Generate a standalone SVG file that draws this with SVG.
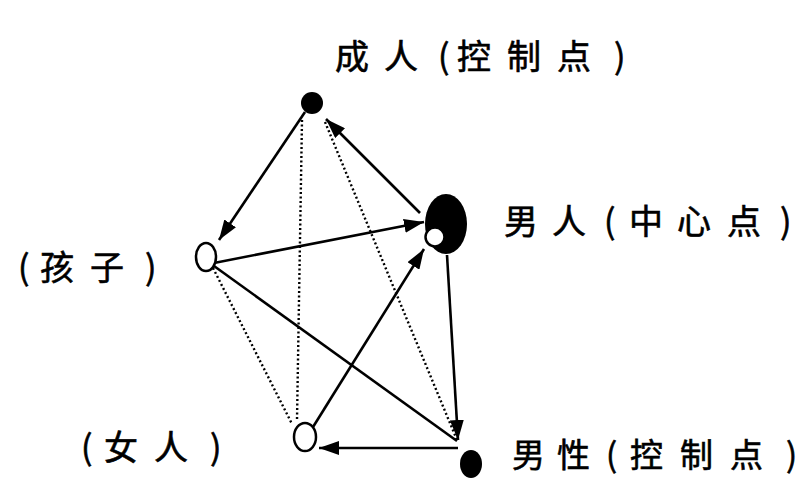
<svg xmlns="http://www.w3.org/2000/svg" width="812" height="478" viewBox="0 0 812 478">
<style>
.lbl{font-family:"Noto Sans CJK SC","Noto Sans CJK TC",sans-serif;font-size:34px;fill:#000;stroke:#000;stroke-width:0.6}
.solid{stroke:#000;stroke-width:2.6;fill:none}
.dot{stroke:#000;stroke-width:2.4;fill:none;stroke-dasharray:2 2.5}
.open{fill:#fff;stroke:#000;stroke-width:2.5}
</style>
<defs>
<marker id="ah" viewBox="0 0 20 14" refX="20" refY="7" markerWidth="20" markerHeight="14" markerUnits="userSpaceOnUse" orient="auto">
<path d="M0,0 L20,7 L0,14 z" fill="#000"/>
</marker>
</defs>
<rect width="812" height="478" fill="#fff"/>
<g id="connectors">
<line class="dot" x1="302" y1="120" x2="297" y2="420"/>
<line class="dot" x1="325" y1="122" x2="457" y2="440"/>
<line class="dot" x1="213" y1="268" x2="292" y2="424"/>
<line class="solid" x1="214" y1="266" x2="457" y2="441"/>
<line class="solid" x1="305" y1="112" x2="219" y2="240" marker-end="url(#ah)"/>
<line class="solid" x1="420" y1="213" x2="326" y2="119" marker-end="url(#ah)"/>
<line class="solid" x1="214" y1="263" x2="424" y2="222" marker-end="url(#ah)"/>
<line class="solid" x1="313" y1="427" x2="424" y2="249" marker-end="url(#ah)"/>
<line class="solid" x1="458" y1="448" x2="319" y2="448" marker-end="url(#ah)"/>
<line class="solid" x1="447" y1="255" x2="458" y2="440" marker-end="url(#ah)"/>
</g>
<g id="adult">
<circle cx="312" cy="103" r="11" fill="#000"/>
<text class="lbl" x="335 384 438 457 507 557 614" y="69">成人(控制点)</text>
</g>
<g id="man">
<ellipse cx="446" cy="224" rx="21" ry="30" fill="#000"/>
<circle class="open" cx="435" cy="237" r="9.5"/>
<text class="lbl" x="504 552 604 629 677 727 780" y="234">男人(中心点)</text>
</g>
<g id="child">
<ellipse class="open" cx="206" cy="257" rx="10" ry="14"/>
<text class="lbl" x="18 40 90 145" y="280">(孩子)</text>
</g>
<g id="woman">
<ellipse class="open" cx="305" cy="437" rx="11" ry="14"/>
<text class="lbl" x="81 104 154 210" y="460">(女人)</text>
</g>
<g id="male">
<ellipse cx="471" cy="464" rx="11" ry="14" fill="#000"/>
<text class="lbl" x="512 557 606 630 680 730 786" y="467" style="font-size:33px">男性(控制点)</text>
</g>
</svg>
